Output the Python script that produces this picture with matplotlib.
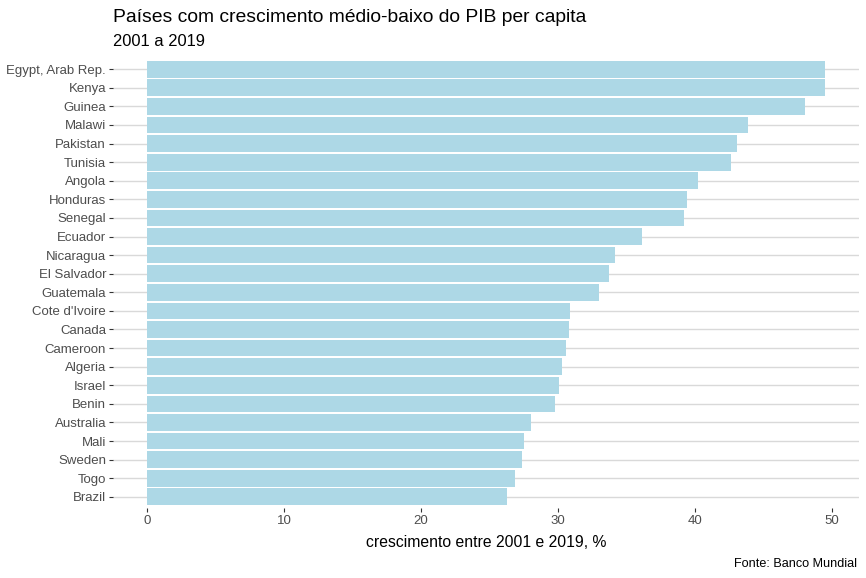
import numpy as np
import matplotlib
matplotlib.use('Agg')
import matplotlib.pyplot as plt

plt.rcParams['font.family'] = ['Liberation Sans', 'DejaVu Sans']

# dados (crescimento do PIB per capita 2001-2019, %)
paises = ['Egypt, Arab Rep.', 'Kenya', 'Guinea', 'Malawi', 'Pakistan', 'Tunisia',
          'Angola', 'Honduras', 'Senegal', 'Ecuador', 'Nicaragua', 'El Salvador',
          'Guatemala', "Cote d'Ivoire", 'Canada', 'Cameroon', 'Algeria', 'Israel',
          'Benin', 'Australia', 'Mali', 'Sweden', 'Togo', 'Brazil']
crescimento = [49.5, 49.5, 48.0, 43.9, 43.1, 42.6,
               40.2, 39.4, 39.2, 36.1, 34.2, 33.7,
               33.0, 30.9, 30.8, 30.6, 30.3, 30.1,
               29.8, 28.0, 27.5, 27.4, 26.9, 26.3]
xticks = [0, 10, 20, 30, 40, 50]

W, H = 866, 578
fig = plt.figure(figsize=(W / 100, H / 100), dpi=100)
ax = fig.add_axes([113 / W, (H - 508) / H, 746 / W, (508 - 58) / H])

n = len(paises)
pos = np.arange(n)[::-1] + 1
ax.barh(pos, crescimento, height=0.9, color='#ADD8E6', zorder=2)

ax.set_yticks(pos)
ax.set_yticklabels(paises)
ax.set_xticks(xticks)
ax.set_xticklabels([str(t) for t in xticks])
xmax = max(crescimento)
ax.set_xlim(-0.05 * xmax, xmax * 1.05)
ax.set_ylim(0.4, n + 0.6)

ax.grid(axis='y', color='#D9D9D9', linewidth=1.0, zorder=0)
ax.grid(axis='x', visible=False)
for s in ax.spines.values():
    s.set_visible(False)
ax.tick_params(axis='both', colors='#333333', labelcolor='#4D4D4D', labelsize=9.5,
               length=3, width=0.8, pad=2)

ax.set_xlabel('crescimento entre 2001 e 2019, %', fontsize=11.3, color='black', labelpad=6)

fig.text(113 / W, 1 - 18 / H, 'Países com crescimento médio-baixo do PIB per capita',
         fontsize=13.9, color='black', ha='left', va='center')
fig.text(113 / W, 1 - 41 / H, '2001 a 2019', fontsize=11.9, color='black',
         ha='left', va='center')
fig.text(857 / W, 1 - 564 / H, 'Fonte: Banco Mundial', fontsize=9.1, color='black',
         ha='right', va='center')

fig.savefig('out.png', dpi=100)
